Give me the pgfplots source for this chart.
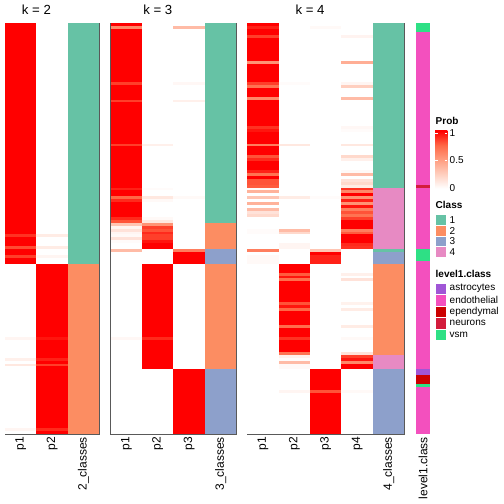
\documentclass[border=0pt]{standalone}
\usepackage{fontspec}
\setmainfont{Liberation Sans}
\usepackage{pgfplots}
\usepackage{pgfplotstable}
\pgfplotsset{compat=1.18}

\definecolor{cA}{HTML}{66C2A5}
\definecolor{cB}{HTML}{FC8D62}
\definecolor{cC}{HTML}{8DA0CB}
\definecolor{cD}{HTML}{E78AC3}
\definecolor{lAst}{HTML}{A056D6}
\definecolor{lEnd}{HTML}{F350BE}
\definecolor{lEpe}{HTML}{CC0000}
\definecolor{lNeu}{HTML}{D31C3C}
\definecolor{lVsm}{HTML}{2EE085}

\pgfdeclareplotmark{cellP}{\pgfpathrectangle{\pgfpoint{-15.75pt}{-1.5pt}}{\pgfpoint{31.5pt}{3.0pt}}\pgfusepathqfill}
\pgfdeclareplotmark{cellL}{\pgfpathrectangle{\pgfpoint{-7.05pt}{-1.5pt}}{\pgfpoint{14.1pt}{3.0pt}}\pgfusepathqfill}

\pgfdeclareverticalshading{probshade}{100bp}{rgb(0bp)=(1,1,1); rgb(25bp)=(1,1,1); rgb(37.5bp)=(1,0.812,0.749); rgb(50bp)=(1,0.620,0.506); rgb(62.5bp)=(1,0.408,0.275); rgb(75bp)=(1,0,0); rgb(100bp)=(1,0,0)}

\pgfplotsset{
  colormap={prob}{rgb255(0cm)=(255,255,255); rgb255(1cm)=(255,207,191); rgb255(2cm)=(255,158,129); rgb255(3cm)=(255,104,70); rgb255(4cm)=(255,0,0)},
  hm/.style={scale only axis, anchor=south west, height=410.7pt, ymin=0, ymax=140,
    ytick=\empty, major tick length=0pt, xtick style={draw=none},
    axis on top, axis line style={draw=black!65, line width=0.8pt},
    xticklabel style={rotate=90, anchor=east, font=\fontsize{12}{14}\selectfont, inner sep=3pt},
    title style={font=\fontsize{13.2}{15}\selectfont, anchor=base, yshift=2.3pt},
    colormap name=prob, point meta min=0, point meta max=1, clip=false,
    scatter/use mapped color={draw=none, fill=mapped color}},
  pc/.style={scatter, only marks, mark=cellP, point meta=explicit},
  cc/.style={scatter, only marks, mark=cellP, point meta=explicit symbolic,
    scatter/classes={1={fill=cA},2={fill=cB},3={fill=cC},4={fill=cD}}},
}

\pgfplotstableread{
r a1 a2 ac b1 b2 b3 bc c1 c2 c3 c4 cc lv
0 1 0 1 1 0 0 1 1 0 0 0 1 5
1 1 0 1 0.6 0 0.35 1 0.92 0 0.03 0 1 5
2 1 0 1 1 0 0 1 1 0 0 0 1 5
3 1 0 1 1 0 0 1 1 0 0 0 1 2
4 1 0 1 1 0 0 1 0.85 0 0 0.06 1 2
5 1 0 1 1 0 0 1 1 0 0 0 1 2
6 1 0 1 1 0 0 1 1 0 0 0 1 2
7 1 0 1 1 0 0 1 1 0 0 0 1 2
8 1 0 1 1 0 0 1 1 0 0 0 1 2
9 1 0 1 1 0 0 1 1 0 0 0 1 2
10 1 0 1 1 0 0 1 1 0 0 0 1 2
11 1 0 1 1 0 0 1 1 0 0 0 1 2
12 1 0 1 1 0 0 1 1 0 0 0 1 2
13 1 0 1 1 0 0 1 0.55 0 0 0.42 1 2
14 1 0 1 1 0 0 1 1 0 0 0 1 2
15 1 0 1 1 0 0 1 1 0 0 0 1 2
16 1 0 1 1 0 0 1 1 0 0 0 1 2
17 1 0 1 1 0 0 1 1 0 0 0 1 2
18 1 0 1 1 0 0 1 1 0 0 0 1 2
19 1 0 1 1 0 0 1 1 0 0 0 1 2
20 1 0 1 0.85 0 0.04 1 0.85 0.02 0 0.05 1 2
21 1 0 1 1 0 0 1 0.7 0 0 0.25 1 2
22 1 0 1 1 0 0 1 1 0 0 0 1 2
23 1 0 1 1 0 0 1 1 0 0 0 1 2
24 1 0 1 1 0 0 1 1 0 0 0 1 2
25 1 0 1 1 0 0 1 0.6 0 0 0.35 1 2
26 1 0 1 0.85 0 0.08 1 1 0 0 0 1 2
27 1 0 1 1 0 0 1 1 0 0 0 1 2
28 1 0 1 1 0 0 1 1 0 0 0 1 2
29 1 0 1 1 0 0 1 1 0 0 0 1 2
30 1 0 1 1 0 0 1 1 0 0 0 1 2
31 1 0 1 1 0 0 1 1 0 0 0 1 2
32 1 0 1 1 0 0 1 1 0 0 0 1 2
33 1 0 1 1 0 0 1 1 0 0 0 1 2
34 1 0 1 1 0 0 1 1 0 0 0 1 2
35 1 0 1 1 0 0 1 0.88 0 0 0.04 1 2
36 1 0 1 1 0 0 1 0.95 0 0 0.02 1 2
37 1 0 1 1 0 0 1 1 0 0 0 1 2
38 1 0 1 1 0 0 1 1 0 0 0 1 2
39 1 0 1 1 0 0 1 1 0 0 0 1 2
40 1 0 1 1 0 0 1 1 0 0 0 1 2
41 1 0 1 0.85 0.08 0 1 0.65 0.12 0 0.12 1 2
42 1 0 1 1 0 0 1 1 0 0 0 1 2
43 1 0 1 1 0 0 1 1 0 0 0 1 2
44 1 0 1 1 0 0 1 1 0 0 0 1 2
45 1 0 1 1 0 0 1 0.8 0 0 0.2 1 2
46 1 0 1 1 0 0 1 0.9 0 0 0.08 1 2
47 1 0 1 1 0 0 1 1 0 0 0 1 2
48 1 0 1 1 0 0 1 1 0 0 0 1 2
49 1 0 1 1 0 0 1 1 0 0 0 1 2
50 1 0 1 1 0 0 1 0.92 0 0 0.03 1 2
51 1 0 1 1 0 0 1 0.7 0 0 0.35 1 2
52 1 0 1 1 0 0 1 1 0 0 0 1 2
53 1 0 1 1 0 0 1 0.8 0 0 0.15 1 2
54 1 0 1 1 0 0 1 0.8 0 0 0.2 1 2
55 1 0 1 1 0 0 1 0.78 0 0 0.1 1 4
56 1 0 1 0.92 0.02 0 1 0.02 0 0 0.88 4 2
57 1 0 1 1 0 0 1 0.4 0 0 0.6 4 2
58 1 0 1 1 0 0 1 0 0 0 1 4 2
59 1 0 1 0.75 0.12 0.03 1 0.3 0.1 0.02 0.55 4 2
60 1 0 1 0.9 0.03 0 1 0 0 0 0.92 4 2
61 1 0 1 1 0 0 1 0.4 0 0 0.55 4 2
62 1 0 1 1 0 0 1 0 0 0 0.95 4 2
63 1 0 1 1 0 0 1 0.35 0 0 0.65 4 2
64 1 0 1 1 0 0 1 0.15 0 0 0.8 4 2
65 1 0 1 1 0 0 1 0.2 0 0 0.7 4 2
66 1 0 1 0.9 0.03 0 1 0 0 0 0.85 4 2
67 1 0 1 0.8 0.12 0 1 0 0 0 1 4 2
68 1 0 1 0.3 0.55 0 2 0 0 0 1 4 2
69 1 0 1 0.05 0.85 0 2 0 0 0 1 4 2
70 1 0 1 0.15 0.8 0 2 0.02 0.35 0 0.65 4 2
71 1 0 1 0.05 0.9 0 2 0.02 0.2 0 0.78 4 2
72 0.88 0.1 1 0.03 0.85 0 2 0 0 0 1 4 2
73 1 0 1 0.15 0.85 0 2 0 0 0 1 4 2
74 1 0 1 0.02 0.95 0 2 0 0 0 1 4 2
75 1 0 1 0 1 0 2 0 0.05 0 0.9 4 2
76 0.82 0.1 1 0 1 0 2 0 0.05 0 0.88 4 2
77 1 0 1 0.35 0 0.65 3 0.65 0 0.3 0 1 5
78 1 0 1 0 0 1 3 0 0 1 0 3 5
79 0.85 0.05 1 0 0 1 3 0.03 0 0.92 0 3 5
80 1 0 1 0 0 1 3 0.03 0 0.92 0 3 5
81 1 0 1 0 0 1 3 0.03 0 0.92 0 3 2
82 0 1 2 0 1 0 2 0 1 0 0 2 2
83 0 1 2 0 1 0 2 0 1 0 0 2 2
84 0 1 2 0 1 0 2 0 1 0 0 2 2
85 0 1 2 0 1 0 2 0 0.78 0 0.08 2 2
86 0 1 2 0 1 0 2 0 0.95 0 0 2 2
87 0 1 2 0 1 0 2 0 0.72 0 0.15 2 2
88 0 1 2 0 1 0 2 0 1 0 0 2 2
89 0 1 2 0 1 0 2 0 1 0 0 2 2
90 0 1 2 0 1 0 2 0 1 0 0 2 2
91 0 1 2 0 1 0 2 0 1 0 0 2 2
92 0 1 2 0 1 0 2 0 1 0 0 2 2
93 0 1 2 0 1 0 2 0 1 0 0 2 2
94 0 1 2 0 1 0 2 0 1 0 0 2 2
95 0 1 2 0 1 0 2 0 0.8 0 0.07 2 2
96 0 1 2 0 1 0 2 0 0.95 0 0 2 2
97 0 1 2 0 1 0 2 0 0.75 0 0.1 2 2
98 0 1 2 0 1 0 2 0 1 0 0 2 2
99 0 1 2 0 1 0 2 0 1 0 0 2 2
100 0 1 2 0 1 0 2 0 1 0 0 2 2
101 0 1 2 0 1 0 2 0 1 0 0 2 2
102 0 1 2 0 1 0 2 0 1 0 0 2 2
103 0 1 2 0 1 0 2 0 0.72 0 0.1 2 2
104 0 1 2 0 1 0 2 0 1 0 0 2 2
105 0 1 2 0 1 0 2 0 1 0 0 2 2
106 0 1 2 0 1 0 2 0 1 0 0 2 2
107 0.05 0.95 2 0.04 0.9 0 2 0 0.88 0 0.03 2 2
108 0 1 2 0 1 0 2 0 1 0 0 2 2
109 0 1 2 0 1 0 2 0 1 0 0 2 2
110 0 1 2 0 1 0 2 0 1 0 0 2 2
111 0 1 2 0 1 0 2 0 1 0 0 2 2
112 0 1 2 0 1 0 2 0 0.7 0 0.15 2 2
113 0 1 2 0 1 0 2 0 0.08 0 0.85 4 2
114 0.08 0.92 2 0 1 0 2 0 0.02 0 0.95 4 2
115 0 1 2 0 1 0 2 0 0.35 0 0.6 4 2
116 0.12 0.85 2 0 1 0 2 0 0.03 0 1 4 2
117 0 1 2 0 1 0 2 0 0.03 0 1 4 2
118 0 1 2 0 0 1 3 0 0 1 0 3 1
119 0 1 2 0 0 1 3 0 0 1 0 3 1
120 0 1 2 0 0 1 3 0 0 1 0 3 3
121 0 1 2 0 0 1 3 0 0 1 0 3 3
122 0 1 2 0 0 1 3 0 0 1 0 3 3
123 0 1 2 0 0 1 3 0 0 1 0 3 5
124 0 1 2 0 0 1 3 0 0 1 0 3 2
125 0 1 2 0 0 1 3 0 0.05 0.8 0.03 3 2
126 0 1 2 0 0 1 3 0 0 1 0 3 2
127 0 1 2 0 0 1 3 0 0 1 0 3 2
128 0 1 2 0 0 1 3 0 0 1 0 3 2
129 0 1 2 0 0 1 3 0 0 1 0 3 2
130 0 1 2 0 0 1 3 0 0 1 0 3 2
131 0 1 2 0 0 1 3 0 0 1 0 3 2
132 0 1 2 0 0 1 3 0 0 1 0 3 2
133 0 1 2 0 0 1 3 0 0 1 0 3 2
134 0 1 2 0 0 1 3 0 0 1 0 3 2
135 0 1 2 0 0 1 3 0 0 1 0 3 2
136 0 1 2 0 0 1 3 0 0 1 0 3 2
137 0 1 2 0 0 1 3 0 0 1 0 3 2
138 0.05 0.9 2 0 0 1 3 0 0 1 0 3 2
139 0 1 2 0 0 1 3 0 0 1 0 3 2
}\hm

\begin{document}
\begin{tikzpicture}[x=1pt,y=1pt]
\useasboundingbox (0,0) rectangle (504,504);

% k = 2
\begin{axis}[hm, at={(5pt,70pt)}, width=94.2pt, xmin=0, xmax=3,
  xtick={0.5,1.5,2.5}, xticklabels={p1,p2,2\_classes},
  title={k = 2}, title style={at={(0.3333,1)}}]
\addplot[pc] table[x expr=0.5, y expr=139.5-\thisrow{r}, meta=a1] {\hm};
\addplot[pc] table[x expr=1.5, y expr=139.5-\thisrow{r}, meta=a2] {\hm};
\addplot[cc] table[x expr=2.5, y expr=139.5-\thisrow{r}, meta=ac] {\hm};
\end{axis}

% k = 3
\begin{axis}[hm, at={(110.7pt,70pt)}, width=125.6pt, xmin=0, xmax=4,
  xtick={0.5,1.5,2.5,3.5}, xticklabels={p1,p2,p3,3\_classes},
  title={k = 3}, title style={at={(0.375,1)}}]
\addplot[pc] table[x expr=0.5, y expr=139.5-\thisrow{r}, meta=b1] {\hm};
\addplot[pc] table[x expr=1.5, y expr=139.5-\thisrow{r}, meta=b2] {\hm};
\addplot[pc] table[x expr=2.5, y expr=139.5-\thisrow{r}, meta=b3] {\hm};
\addplot[cc] table[x expr=3.5, y expr=139.5-\thisrow{r}, meta=bc] {\hm};
\end{axis}

% k = 4
\begin{axis}[hm, at={(247.3pt,70pt)}, width=157pt, xmin=0, xmax=5,
  xtick={0.5,1.5,2.5,3.5,4.5}, xticklabels={p1,p2,p3,p4,4\_classes},
  title={k = 4}, title style={at={(0.4,1)}}]
\addplot[pc] table[x expr=0.5, y expr=139.5-\thisrow{r}, meta=c1] {\hm};
\addplot[pc] table[x expr=1.5, y expr=139.5-\thisrow{r}, meta=c2] {\hm};
\addplot[pc] table[x expr=2.5, y expr=139.5-\thisrow{r}, meta=c3] {\hm};
\addplot[pc] table[x expr=3.5, y expr=139.5-\thisrow{r}, meta=c4] {\hm};
\addplot[cc] table[x expr=4.5, y expr=139.5-\thisrow{r}, meta=cc] {\hm};
\end{axis}

% level1.class strip
\begin{axis}[hm, at={(416pt,70pt)}, width=14pt, xmin=0, xmax=1,
  axis line style={draw=none},
  xtick={0.5}, xticklabels={level1.class}]
\addplot[scatter, only marks, mark=cellL, point meta=explicit symbolic,
  scatter/classes={1={fill=lAst},2={fill=lEnd},3={fill=lEpe},4={fill=lNeu},5={fill=lVsm}}]
  table[x expr=0.5, y expr=139.5-\thisrow{r}, meta=lv] {\hm};
\end{axis}

% legends
\begin{scope}[every node/.style={inner sep=0pt, font=\fontsize{10}{12}\selectfont}]
\node[anchor=base west, font=\fontsize{10}{12}\selectfont\bfseries] at (435.5,379) {Prob};
\shade[shading=probshade] (435,315.5) rectangle (447.3,373);
\draw[white, line width=0.6pt] (435,371)--(437.5,371) (444.8,371)--(447.3,371)
  (435,343.5)--(437.5,343.5) (444.8,343.5)--(447.3,343.5);
\node[anchor=west] at (449.5,371) {1};
\node[anchor=west] at (449.5,343.5) {0.5};
\node[anchor=west] at (449.5,315.7) {0};

\node[anchor=base west, font=\fontsize{10}{12}\selectfont\bfseries] at (435.5,295) {Class};
\foreach \c/\t [count=\i from 0] in {cA/1,cB/2,cC/3,cD/4}{
  \fill[\c, draw=white, line width=0.6pt] (435.3,289.5-10.75*\i) rectangle (446.5,278.75-10.75*\i);
  \node[anchor=west] at (449.5,284.1-10.75*\i) {\t};
}

\node[anchor=base west, font=\fontsize{10}{12}\selectfont\bfseries] at (435.5,226) {level1.class};
\foreach \c/\t [count=\i from 0] in {lAst/astrocytes,lEnd/endothelial,lEpe/ependymal,lNeu/neurons,lVsm/vsm}{
  \fill[\c, draw=white, line width=0.6pt] (435.3,221-11.5*\i) rectangle (446.5,209.5-11.5*\i);
  \node[anchor=west] at (449.5,215.25-11.5*\i) {\t};
}
\end{scope}
\end{tikzpicture}
\end{document}
